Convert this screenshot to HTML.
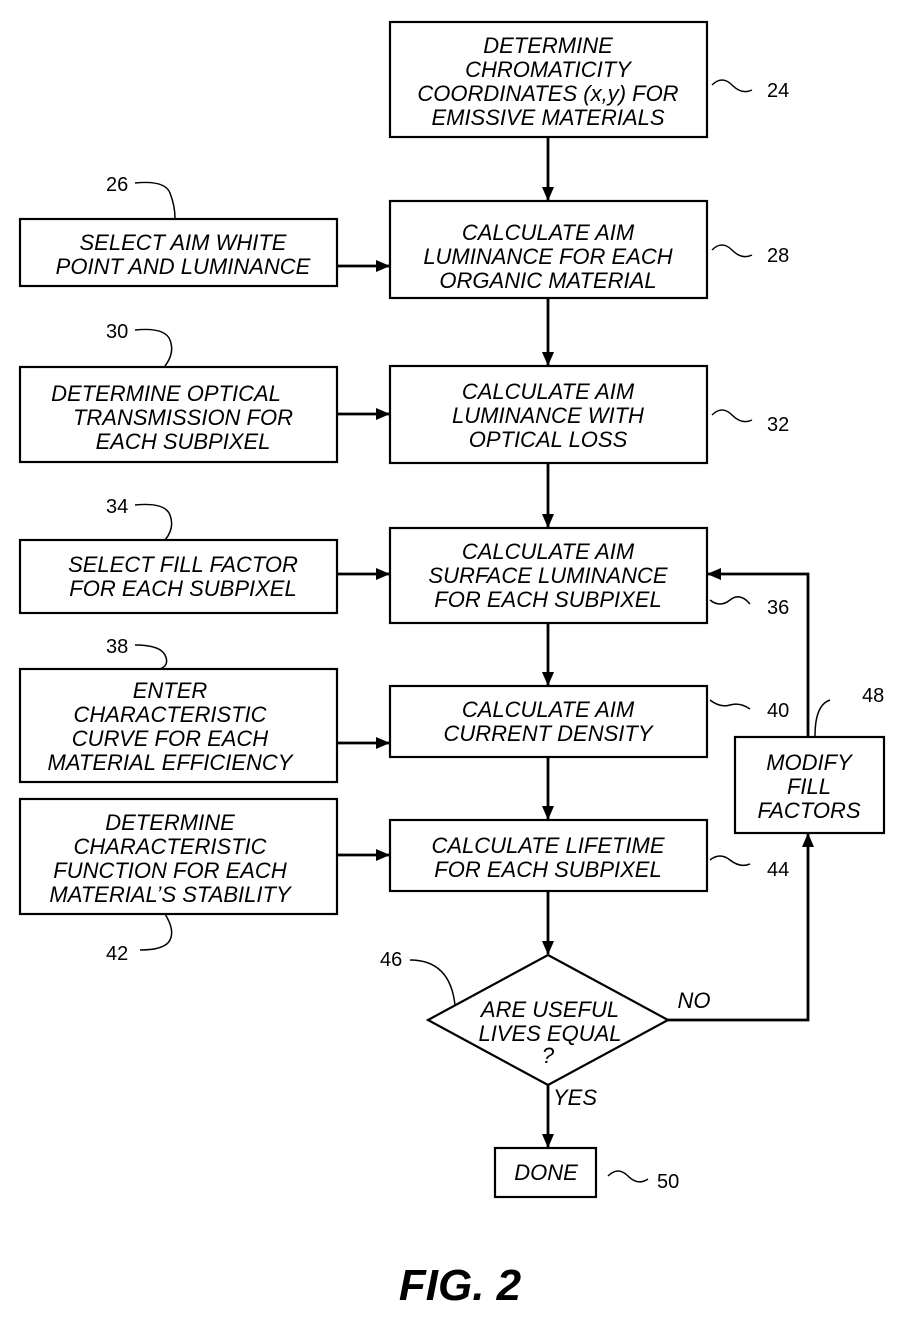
<!DOCTYPE html>
<html><head><meta charset="utf-8"><style>
html,body{margin:0;padding:0;background:#fff;}
svg{display:block}
text{font-family:"Liberation Sans",sans-serif;font-style:italic;font-size:22px;fill:#000;text-anchor:middle}
.n{text-anchor:start;font-style:normal;font-size:20px}
</style></head><body>
<svg width="912" height="1318" viewBox="0 0 912 1318" xmlns="http://www.w3.org/2000/svg">
<defs><marker id="a" markerWidth="14" markerHeight="12" refX="13" refY="6" orient="auto" markerUnits="userSpaceOnUse"><path d="M0,0 L14,6 L0,12 Z" fill="#000"/></marker></defs>
<g fill="none" stroke="#000" stroke-width="2.2">
<rect x="390" y="22" width="317" height="115"/>
<rect x="390" y="201" width="317" height="97"/>
<rect x="20" y="219" width="317" height="67"/>
<rect x="20" y="367" width="317" height="95"/>
<rect x="390" y="366" width="317" height="97"/>
<rect x="20" y="540" width="317" height="73"/>
<rect x="390" y="528" width="317" height="95"/>
<rect x="20" y="669" width="317" height="113"/>
<rect x="390" y="686" width="317" height="71"/>
<rect x="735" y="737" width="149" height="96"/>
<rect x="20" y="799" width="317" height="115"/>
<rect x="390" y="820" width="317" height="71"/>
<path d="M548,955 L668,1020 L548,1085 L428,1020 Z"/>
<rect x="495" y="1148" width="101" height="49"/>
</g>
<g stroke="#000" stroke-width="2.8" fill="none" marker-end="url(#a)">
<line x1="548" y1="137" x2="548" y2="200"/>
<line x1="548" y1="298" x2="548" y2="365"/>
<line x1="548" y1="463" x2="548" y2="527"/>
<line x1="548" y1="623" x2="548" y2="685"/>
<line x1="548" y1="757" x2="548" y2="819"/>
<line x1="548" y1="891" x2="548" y2="954"/>
<line x1="548" y1="1085" x2="548" y2="1147"/>
<line x1="337" y1="266" x2="389" y2="266"/>
<line x1="337" y1="414" x2="389" y2="414"/>
<line x1="337" y1="574" x2="389" y2="574"/>
<line x1="337" y1="743" x2="389" y2="743"/>
<line x1="337" y1="855" x2="389" y2="855"/>
<polyline points="668,1020 808,1020 808,834"/>
<polyline points="808,737 808,574 708,574"/>
</g>
<g stroke="#000" stroke-width="1.5" fill="none">
<path d="M712,85 q10,-10 20,0 t20,5"/>
<path d="M712,250 q10,-10 20,0 t20,5"/>
<path d="M712,415 q10,-10 20,0 t20,5"/>
<path d="M710,600 q10,8 20,0 t20,4"/>
<path d="M710,700 q10,8 20,5 t20,4"/>
<path d="M710,860 q10,-8 20,0 t20,4"/>
<path d="M608,1176 q10,-10 20,0 t20,3"/>
<path d="M135,183 q30,-3 35,10 t5,25"/>
<path d="M135,330 q30,-3 35,10 t-5,26"/>
<path d="M135,505 q30,-3 35,10 t-5,25"/>
<path d="M135,645 q25,0 30,10 t-5,14"/>
<path d="M140,950 q25,0 30,-10 t-5,-26"/>
<path d="M410,960 q40,0 45,45"/>
<path d="M830,700 q-15,5 -15,36"/>
</g>
<text x="548" y="53">DETERMINE</text>
<text x="548" y="77">CHROMATICITY</text>
<text x="548" y="101">COORDINATES (x,y) FOR</text>
<text x="548" y="125">EMISSIVE MATERIALS</text>
<text x="548" y="240">CALCULATE AIM</text>
<text x="548" y="264">LUMINANCE FOR EACH</text>
<text x="548" y="288">ORGANIC MATERIAL</text>
<text x="183" y="250">SELECT AIM WHITE</text>
<text x="183" y="274">POINT AND LUMINANCE</text>
<text x="166" y="401">DETERMINE OPTICAL</text>
<text x="183" y="425">TRANSMISSION FOR</text>
<text x="183" y="449">EACH SUBPIXEL</text>
<text x="548" y="399">CALCULATE AIM</text>
<text x="548" y="423">LUMINANCE WITH</text>
<text x="548" y="447">OPTICAL LOSS</text>
<text x="183" y="572">SELECT FILL FACTOR</text>
<text x="183" y="596">FOR EACH SUBPIXEL</text>
<text x="548" y="559">CALCULATE AIM</text>
<text x="548" y="583">SURFACE LUMINANCE</text>
<text x="548" y="607">FOR EACH SUBPIXEL</text>
<text x="170" y="698">ENTER</text>
<text x="170" y="722">CHARACTERISTIC</text>
<text x="170" y="746">CURVE FOR EACH</text>
<text x="170" y="770">MATERIAL EFFICIENCY</text>
<text x="548" y="717">CALCULATE AIM</text>
<text x="548" y="741">CURRENT DENSITY</text>
<text x="809" y="770">MODIFY</text>
<text x="809" y="794">FILL</text>
<text x="809" y="818">FACTORS</text>
<text x="170" y="830">DETERMINE</text>
<text x="170" y="854">CHARACTERISTIC</text>
<text x="170" y="878">FUNCTION FOR EACH</text>
<text x="170" y="902">MATERIAL’S STABILITY</text>
<text x="548" y="853">CALCULATE LIFETIME</text>
<text x="548" y="877">FOR EACH SUBPIXEL</text>
<text x="550" y="1017">ARE USEFUL</text>
<text x="550" y="1041">LIVES EQUAL</text>
<text x="548" y="1063">?</text>
<text x="694" y="1008">NO</text>
<text x="575" y="1105">YES</text>
<text x="546" y="1180">DONE</text>
<text class="n" x="767" y="97">24</text>
<text class="n" x="767" y="262">28</text>
<text class="n" x="767" y="431">32</text>
<text class="n" x="767" y="614">36</text>
<text class="n" x="767" y="717">40</text>
<text class="n" x="767" y="876">44</text>
<text class="n" x="862" y="702">48</text>
<text class="n" x="657" y="1188">50</text>
<text class="n" x="106" y="191">26</text>
<text class="n" x="106" y="338">30</text>
<text class="n" x="106" y="513">34</text>
<text class="n" x="106" y="653">38</text>
<text class="n" x="106" y="960">42</text>
<text class="n" x="380" y="966">46</text>
<text x="460" y="1300" style="font-size:44px;font-weight:bold">FIG. 2</text>
</svg>
</body></html>
